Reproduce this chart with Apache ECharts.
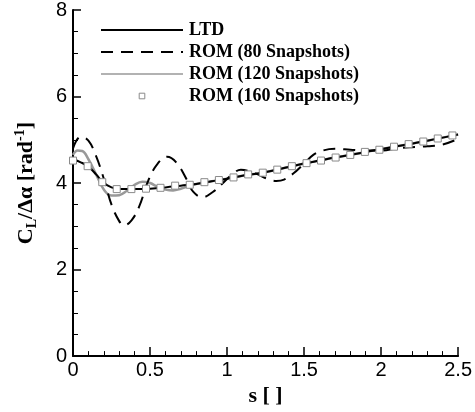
<!DOCTYPE html>
<html>
<head>
<meta charset="utf-8">
<script src="https://cdn.jsdelivr.net/npm/echarts@6/dist/echarts.min.js"></script>
<style>html,body{margin:0;padding:0;background:#fff}#c{width:475px;height:412px}</style>
</head>
<body>
<div id="c"></div>
<script>
// ---- data ----
var seriesNames = ['LTD', 'ROM (80 Snapshots)', 'ROM (120 Snapshots)', 'ROM (160 Snapshots)'];
var xTicks = [0, 0.5, 1, 1.5, 2, 2.5];
var yTicks = [0, 2, 4, 6, 8];

var ltdS = [0, 0.05, 0.1, 0.15, 0.2, 0.25, 0.3, 0.4, 0.5, 0.6, 0.7, 0.8, 0.9, 1.0, 1.1, 1.2, 1.3, 1.4, 1.5, 1.6, 1.7, 1.8, 1.9, 2.0, 2.1, 2.2, 2.3, 2.4, 2.5];
var ltdV = [4.55, 4.48, 4.38, 4.2, 4.0, 3.9, 3.86, 3.86, 3.87, 3.9, 3.94, 3.98, 4.04, 4.1, 4.17, 4.22, 4.29, 4.37, 4.45, 4.52, 4.59, 4.65, 4.72, 4.78, 4.85, 4.91, 4.98, 5.05, 5.12];

var rom80S = [0, 0.05, 0.1, 0.15, 0.2, 0.25, 0.3, 0.33, 0.38, 0.43, 0.49, 0.55, 0.61, 0.67, 0.74, 0.78, 0.84, 0.91, 0.97, 1.04, 1.09, 1.15, 1.2, 1.26, 1.32, 1.37, 1.43, 1.5, 1.56, 1.62, 1.7, 1.8, 1.9, 2.0, 2.1, 2.2, 2.3, 2.4, 2.5];
var rom80V = [4.8, 5.07, 4.98, 4.62, 4.1, 3.5, 3.12, 3.02, 3.14, 3.46, 4.07, 4.45, 4.61, 4.48, 4.07, 3.8, 3.67, 3.8, 3.99, 4.22, 4.31, 4.27, 4.2, 4.1, 4.05, 4.08, 4.22, 4.45, 4.65, 4.75, 4.79, 4.77, 4.75, 4.75, 4.8, 4.83, 4.85, 4.89, 5.02];

var rom120S = [0, 0.03, 0.06, 0.1, 0.15, 0.2, 0.25, 0.3, 0.35, 0.4, 0.45, 0.5, 0.55, 0.6, 0.65, 0.7, 0.75, 0.8, 0.9, 1.0, 1.1, 1.2, 1.3, 1.4, 1.5, 1.6, 1.7, 1.8, 1.9, 2.0, 2.1, 2.2, 2.3, 2.4, 2.5];
var rom120V = [4.65, 4.75, 4.74, 4.55, 4.2, 3.85, 3.71, 3.72, 3.82, 3.96, 4.03, 4.0, 3.91, 3.85, 3.83, 3.87, 3.93, 3.98, 4.04, 4.1, 4.17, 4.22, 4.29, 4.37, 4.45, 4.52, 4.59, 4.65, 4.72, 4.78, 4.85, 4.91, 4.98, 5.05, 5.12];

var rom160S = [0, 0.095, 0.19, 0.284, 0.379, 0.474, 0.568, 0.663, 0.758, 0.853, 0.947, 1.042, 1.137, 1.232, 1.326, 1.421, 1.516, 1.61, 1.705, 1.8, 1.895, 1.989, 2.084, 2.179, 2.274, 2.368, 2.463];
var rom160V = [4.52, 4.39, 4.02, 3.86, 3.86, 3.87, 3.89, 3.94, 3.96, 4.02, 4.07, 4.13, 4.20, 4.24, 4.31, 4.39, 4.46, 4.52, 4.59, 4.65, 4.72, 4.77, 4.84, 4.90, 4.96, 5.03, 5.10];

function pairs(xs, ys) { return xs.map(function (x, i) { return [x, ys[i]]; }); }

var serif = 'Liberation Serif';
var sans = 'Liberation Sans';

var chart = echarts.init(document.getElementById('c'), null, { renderer: 'canvas' });
chart.setOption({
  animation: false,
  backgroundColor: '#fff',
  grid: { left: 73, right: 16, top: 7, bottom: 53, containLabel: false },
  legend: {
    orient: 'vertical',
    left: 95,
    top: 16,
    itemWidth: 82,
    itemHeight: 7,
    itemGap: 4,
    textStyle: { fontFamily: serif, fontWeight: 'bold', fontSize: 18, lineHeight: 18, color: '#000', padding: [0, 0, 0, 1] },
    data: [
      { name: seriesNames[0], itemStyle: { opacity: 0 } },
      { name: seriesNames[1], itemStyle: { opacity: 0 } },
      { name: seriesNames[2], itemStyle: { opacity: 0 }, lineStyle: { width: 1.5 } },
      { name: seriesNames[3], lineStyle: { opacity: 0 }, itemStyle: { borderWidth: 1 } }
    ]
  },
  xAxis: {
    type: 'value', min: xTicks[0], max: xTicks[xTicks.length - 1], interval: 0.5,
    name: 's [ ]', nameLocation: 'middle', nameGap: 27,
    nameTextStyle: { fontFamily: serif, fontWeight: 'bold', fontSize: 22, color: '#000' },
    axisLine: { show: true, onZero: false, lineStyle: { color: '#000', width: 2 } },
    axisTick: { show: true, inside: true, length: 9, lineStyle: { color: '#000', width: 1.5 } },
    minorTick: { show: true, splitNumber: 5, length: 5, lineStyle: { color: '#000', width: 1 } },
    axisLabel: { fontFamily: sans, fontSize: 20, color: '#000', margin: 4 },
    splitLine: { show: false }
  },
  yAxis: {
    type: 'value', min: yTicks[0], max: yTicks[yTicks.length - 1], interval: 2,
    name: '{b|C}{s|L}{b|/Δα [rad}{p|-1}{b|]}', nameLocation: 'middle', nameGap: 34,
    nameTextStyle: {
      color: '#000',
      rich: {
        b: { fontFamily: serif, fontWeight: 'bold', fontSize: 22, lineHeight: 26, verticalAlign: 'middle', color: '#000' },
        s: { fontFamily: serif, fontWeight: 'bold', fontSize: 14, lineHeight: 14, verticalAlign: 'bottom', color: '#000' },
        p: { fontFamily: serif, fontWeight: 'bold', fontSize: 14, lineHeight: 14, verticalAlign: 'top', color: '#000' }
      }
    },
    axisLine: { show: true, onZero: false, lineStyle: { color: '#000', width: 2 } },
    axisTick: { show: true, inside: true, length: 8, lineStyle: { color: '#000', width: 1.5 } },
    minorTick: { show: true, splitNumber: 4, length: 5, lineStyle: { color: '#000', width: 1 } },
    axisLabel: { fontFamily: sans, fontSize: 20, color: '#000', margin: 6 },
    splitLine: { show: false }
  },
  series: [
    {
      name: seriesNames[2], type: 'line', smooth: 0.4, showSymbol: false, symbol: 'none', z: 2,
      data: pairs(rom120S, rom120V),
      lineStyle: { color: '#999', width: 2.5 }, itemStyle: { color: '#999' }
    },
    {
      name: seriesNames[1], type: 'line', smooth: 0.4, showSymbol: false, symbol: 'none', z: 3,
      data: pairs(rom80S, rom80V),
      lineStyle: { color: '#000', width: 2, type: [12, 8] }, itemStyle: { color: '#000' }
    },
    {
      name: seriesNames[0], type: 'line', smooth: 0.4, showSymbol: false, symbol: 'none', z: 4,
      data: pairs(ltdS, ltdV),
      lineStyle: { color: '#000', width: 2 }, itemStyle: { color: '#000' }
    },
    {
      name: seriesNames[3], type: 'line', symbol: 'rect', symbolSize: 7, showSymbol: true, z: 5,
      data: pairs(rom160S, rom160V),
      lineStyle: { opacity: 0, width: 0 },
      itemStyle: { color: '#fff', borderColor: '#8a8a8a', borderWidth: 1 }
    }
  ]
});
</script>
</body>
</html>
